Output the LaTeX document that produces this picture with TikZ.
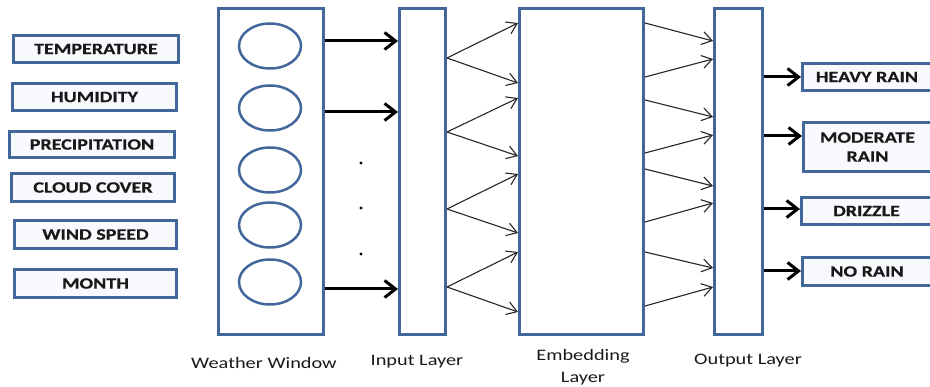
\documentclass[tikz,border=0pt]{standalone}
\usepackage{fontspec}
\setmainfont[FakeStretch=1.27]{Carlito}
\newfontfamily\heavyfont[FakeStretch=1.27,FakeBold=0.6]{Carlito}
\usetikzlibrary{arrows.meta,shapes.geometric}
\definecolor{frame}{HTML}{41679B}
\definecolor{tint}{HTML}{F8FAFD}
\begin{document}
\begin{tikzpicture}[x=1pt,y=-1pt,
  lay/.style={draw=frame,line width=3pt,fill=white,inner sep=0pt},
  feat/.style={draw=frame,line width=3pt,fill=tint,inner sep=0pt,align=center,
    font=\fontsize{15.8}{19}\selectfont\heavyfont\bfseries,text=black!90},
  unit/.style={ellipse,draw=frame,line width=2.5pt,inner sep=0pt,
    minimum width=62pt,minimum height=45pt},
  layercaption/.style={font=\fontsize{16}{22}\selectfont,align=center,text=black!90},
  bigarrow/.style={line width=3pt,-{Straight Barb[length=11pt,width=17pt]}},
  fan/.style={line width=1.1pt,draw=black!85,-{Straight Barb[length=10pt,width=13pt]}},
  dot/.style={circle,fill=black,inner sep=0pt,minimum size=3.4pt}]
\useasboundingbox (0,0) rectangle (930,387);
\clip (0,0) rectangle (930,387);

% input features
\node[feat,minimum width=165pt,minimum height=27pt] (f1) at (96,49)    {TEMPERATURE};
\node[feat,minimum width=164pt,minimum height=27pt] (f2) at (94.5,97)  {HUMIDITY};
\node[feat,minimum width=165pt,minimum height=26pt] (f3) at (92,144.5) {PRECIPITATION};
\node[feat,minimum width=163pt,minimum height=28pt] (f4) at (93,187.5) {CLOUD COVER};
\node[feat,minimum width=162pt,minimum height=28pt] (f5) at (95.5,234.5) {WIND SPEED};
\node[feat,minimum width=162pt,minimum height=28pt] (f6) at (95.5,283.5) {MONTH};

% layers
\node[lay,minimum width=105pt,minimum height=326pt] (win) at (271,171.5) {};
\node[lay,minimum width=46pt,minimum height=326pt]  (inl) at (422.5,171.5) {};
\node[lay,minimum width=124pt,minimum height=326pt] (emb) at (581.5,171.5) {};
\node[lay,minimum width=48pt,minimum height=326pt]  (outl) at (738.5,171.5) {};

% window units
\node[unit] (u1) at (270,46) {};
\node[unit] (u2) at (270,108) {};
\node[unit] (u3) at (270,170) {};
\node[unit] (u4) at (270,225) {};
\node[unit] (u5) at (270,282) {};

% window to input layer
\draw[bigarrow] (win.east |- 0,41)  -- (inl.west |- 0,41);
\draw[bigarrow] (win.east |- 0,112) -- (inl.west |- 0,112);
\draw[bigarrow] (win.east |- 0,289) -- (inl.west |- 0,289);
\node[dot] (d1) at (361,163) {};
\node[dot] (d2) at (361,208) {};
\node[dot] (d3) at (361,254) {};

% input layer to embedding layer
\foreach \s/\a/\b in {58/23/83,132/98/156,209/174/233,287/252/312}{
  \draw[fan] (inl.east |- 0,\s) -- (emb.west |- 0,\a);
  \draw[fan] (inl.east |- 0,\s) -- (emb.west |- 0,\b);
}

% embedding layer to output layer
\foreach \s/\t in {23/41,77/59,100/117,153/135,169/186,222/203,252/268,306/287}{
  \draw[fan] (emb.east |- 0,\s) -- (outl.west |- 0,\t);
}

% classes
\node[feat,minimum width=129pt,minimum height=27pt] (c1) at (867,77)    {HEAVY RAIN};
\node[feat,minimum width=128pt,minimum height=49pt] (c2) at (867.5,147) {MODERATE\\RAIN};
\node[feat,minimum width=130pt,minimum height=27pt] (c3) at (866.5,211) {DRIZZLE};
\node[feat,minimum width=129pt,minimum height=28pt] (c4) at (867,271.5) {NO RAIN};

\draw[bigarrow] (outl.east |- 0,77)  -- (c1.west |- 0,77);
\draw[bigarrow] (outl.east |- 0,136) -- (c2.west |- 0,136);
\draw[bigarrow] (outl.east |- 0,209) -- (c3.west |- 0,209);
\draw[bigarrow] (outl.east |- 0,271) -- (c4.west |- 0,271);

% captions
\node[layercaption] (l1) at (264,363) {Weather Window};
\node[layercaption] (l2) at (417,362) {Input Layer};
\node[layercaption] (l3) at (583,367) {Embedding\\Layer};
\node[layercaption] (l4) at (748,361) {Output Layer};
\end{tikzpicture}
\end{document}
